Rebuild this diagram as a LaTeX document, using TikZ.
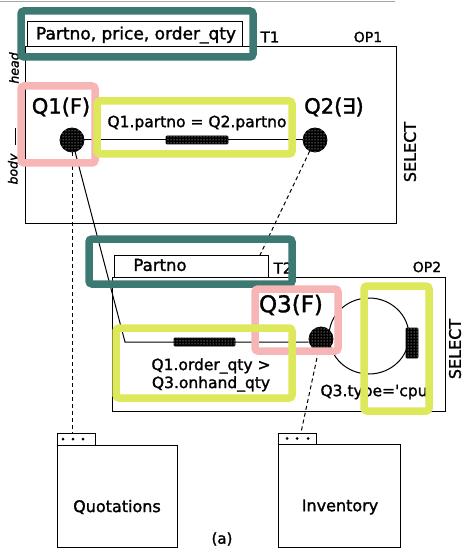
\documentclass[tikz,border=0pt]{standalone}
\usepackage{fontspec}
\setmainfont{DejaVu Sans}[FakeBold=1.5]
\usetikzlibrary{patterns,calc,shapes.geometric}
\definecolor{annteal}{HTML}{3D7973}
\definecolor{annyel}{HTML}{DDE95A}
\definecolor{annpink}{HTML}{F7B5B5}
\newcommand{\fsz}[1]{\fontsize{#1}{#1}\selectfont}
\begin{document}
\begin{tikzpicture}[x=1pt,y=-1pt,
  frame/.style={draw,line width=1pt,inner sep=0pt,rectangle},
  lbl/.style={inner sep=0pt,text=black},
  speck/.style={fill=black,postaction={pattern=dots,pattern color=white}},
  qnode/.style={circle,speck,draw=black,line width=0.8pt,minimum size=24pt,inner sep=0pt},
  hatch/.style={rectangle,speck,draw=black,line width=0.8pt,inner sep=0pt,rounded corners=1pt},
  conn/.style={line width=1pt},
  dconn/.style={line width=1pt,dash pattern=on 4pt off 3pt},
  ann/.style={line width=7.5pt,rounded corners=3pt},
  tabdot/.style={circle,fill=black,inner sep=0pt,minimum size=3pt}]
\useasboundingbox (0,0) rectangle (464,548);
\fill[white] (0,0) rectangle (464,548);
\draw[gray!70,line width=1pt] (0,2) -- (395,2);

% ---------- OP1 ----------
\node[frame,minimum width=371pt,minimum height=176pt] (op1) at (210.5,135) {};
\node[frame,fill=white,minimum width=215pt,minimum height=25pt] (t1) at (134.5,34.5) {};
\node[lbl,font=\fsz{17}] (t1txt) at (136,35) {Partno, price, order\_qty};
\node[lbl,font=\fsz{15}] (t1lbl) at (270,37) {T1};
\node[lbl,font=\fsz{14}] (op1lbl) at (368,37) {OP1};
\node[lbl,font=\fsz{16},rotate=90] (sel1) at (410,152) {SELECT};
\node[lbl,font=\fsz{12.5}\itshape,rotate=90] (headlbl) at (14,68) {head};
\node[lbl,font=\fsz{12.5}\itshape,rotate=90] (bodylbl) at (14,169) {body};
\draw[line width=1pt] (15,128) -- (15,145);

\node[qnode] (q1) at (72,140) {};
\node[qnode] (q2) at (315,140) {};
\node[lbl,font=\fsz{21}] (q1lbl) at (61,107) {Q1(F)};
\node[lbl,font=\fsz{21}] (q2lbl) at (334,107) {Q2(∃)};
\node[lbl,font=\fsz{15.5}] (p1txt) at (197,123) {Q1.partno = Q2.partno};

% ---------- OP2 ----------
\node[frame,minimum width=333pt,minimum height=134pt] (op2) at (278.5,344) {};
\node[frame,fill=white,minimum width=154pt,minimum height=22pt] (t2) at (191,266) {};
\node[lbl,font=\fsz{16.5}] (t2txt) at (160,265) {Partno};
\node[lbl,font=\fsz{15}] (t2lbl) at (283,268) {T2};
\node[lbl,font=\fsz{14}] (op2lbl) at (427,267) {OP2};
\node[lbl,font=\fsz{16},rotate=90] (sel2) at (455,349) {SELECT};

\node[ellipse,draw,line width=1pt,minimum width=80pt,minimum height=76pt,inner sep=0pt] (loop) at (369,336) {};
\node[qnode] (q3) at (321,339) {};
\node[lbl,font=\fsz{23}] (q3lbl) at (291,305) {Q3(F)};
\node[lbl,font=\fsz{15.5}] (typetxt) at (374,392) {Q3.type=\textquotesingle cpu};
\node[lbl,font=\fontsize{15.5}{18}\selectfont,align=center] (p2txt) at (211,375) {Q1.order\_qty >\\Q3.onhand\_qty};

% ---------- relations ----------
\node[frame,minimum width=38pt,minimum height=12pt] (qtab) at (76,439) {};
\node[frame,minimum width=120pt,minimum height=102pt] (qbox) at (117,496) {};
\node[lbl,font=\fsz{16}] (qtxt) at (117,507) {Quotations};
\node[tabdot] at (63,439) {};
\node[tabdot] at (73,439) {};
\node[tabdot] at (83,439) {};

\node[frame,minimum width=38pt,minimum height=11pt] (itab) at (297,438.5) {};
\node[frame,minimum width=122pt,minimum height=103pt] (ibox) at (339,495.5) {};
\node[lbl,font=\fsz{16}] (itxt) at (340,507) {Inventory};
\node[tabdot] at (287,438.5) {};
\node[tabdot] at (297,438.5) {};
\node[tabdot] at (308,438.5) {};

\node[lbl,font=\fsz{15}] (cap) at (222,539) {(a)};

% ---------- connectors ----------
\coordinate (bend) at (125,342);
\coordinate (t2top) at (260,255);
\draw[conn] (q1) -- (q2);
\draw[conn] (q1) -- (bend) -- (bend -| q3.west);
\draw[dconn] (q1) -- (q1 |- qtab.north);
\draw[dconn] (q2) -- (t2top);
\draw[dconn] (q3) -- ($(itab.north)+(4,0)$);

\node[hatch,minimum width=62pt,minimum height=8pt] (h1) at (197,140) {};
\node[hatch,minimum width=61pt,minimum height=8pt] (h3) at (204.5,342) {};
\node[hatch,minimum width=12pt,minimum height=30pt] (h2) at (412,343) {};

% ---------- annotation boxes ----------
\draw[ann,annteal] (21,11) rectangle (253,57);
\draw[ann,annteal] (89,239) rectangle (292,284);
\draw[ann,annpink] (21,86) rectangle (95,163);
\draw[ann,annpink] (255,289) rectangle (338,351);
\draw[ann,annyel] (97,101) rectangle (292,154);
\draw[ann,annyel] (116,328) rectangle (292,398);
\draw[ann,annyel] (364,286) rectangle (429,411);
\end{tikzpicture}
\end{document}
